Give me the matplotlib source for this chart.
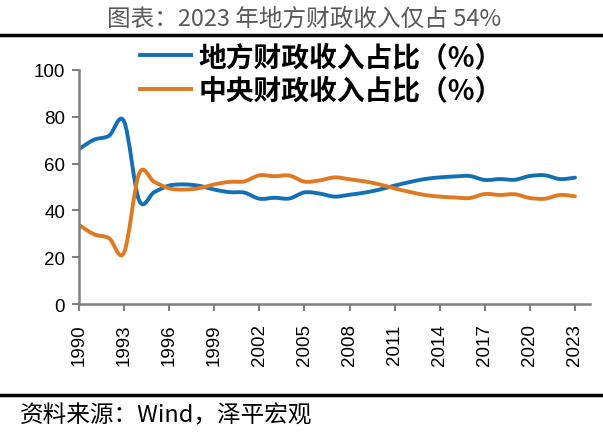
import matplotlib
matplotlib.use("Agg")
import matplotlib.pyplot as plt
from matplotlib.path import Path
from matplotlib.patches import PathPatch
from matplotlib.lines import Line2D
import numpy as np

plt.rcParams['font.family'] = ['Noto Sans CJK SC', 'DejaVu Sans']

years = list(range(1990, 2024))
# local share of fiscal revenue (%)
local_share = [66.2, 70.2, 71.9, 78.0, 44.3, 47.8, 50.6, 51.1, 50.5, 48.9,
               47.8, 47.6, 45.0, 45.4, 45.1, 47.7, 47.2, 45.9, 46.7, 47.6,
               48.9, 50.6, 52.1, 53.4, 54.1, 54.5, 54.7, 53.0, 53.4, 53.1,
               54.7, 55.0, 53.4, 54.0]
central_share = [round(100 - v, 1) for v in local_share]

series_names = ['地方财政收入占比（%）', '中央财政收入占比（%）']
colors = ['#1470B4', '#E07A22']
xticks = list(range(1990, 2024, 3))
yticks = [0, 20, 40, 60, 80, 100]


def smooth_path(x, y):
    # excel style smoothed line: cubic bezier through every point
    x = np.asarray(x, float)
    y = np.asarray(y, float)
    n = len(x)
    verts = [(x[0], y[0])]
    codes = [Path.MOVETO]
    for i in range(n - 1):
        i0 = max(i - 1, 0)
        i3 = min(i + 2, n - 1)
        c1 = (x[i] + (x[i + 1] - x[i0]) / 6, y[i] + (y[i + 1] - y[i0]) / 6)
        c2 = (x[i + 1] - (x[i3] - x[i]) / 6, y[i + 1] - (y[i3] - y[i]) / 6)
        verts += [c1, c2, (x[i + 1], y[i + 1])]
        codes += [Path.CURVE4] * 3
    return Path(verts, codes)


fig = plt.figure(figsize=(6.03, 4.35), dpi=100)
ax = fig.add_axes([79 / 603, 1 - 305 / 435, (590 - 79) / 603, (305 - 71) / 435])

handles = []
for vals, c, name in zip([local_share, central_share], colors, series_names):
    ax.add_patch(PathPatch(smooth_path(years, vals), fill=False, edgecolor=c,
                           lw=2.8, capstyle='round', joinstyle='round'))
    handles.append(Line2D([], [], color=c, lw=2.8))

ax.set_xlim(1990, 1990 + (590 - 79) / ((575 - 79) / 33))
ax.set_ylim(0, 100)
ax.set_xticks(xticks)
ax.set_xticklabels([str(t) for t in xticks], rotation=90,
                   family='Liberation Sans', fontsize=13.5)
ax.set_yticks(yticks)
ax.set_yticklabels([str(t) for t in yticks], family='Liberation Sans', fontsize=13.5)
ax.tick_params(axis='both', length=5, width=1.5, color='#808080', pad=5)
ax.tick_params(axis='x', pad=9)
for s in ['top', 'right']:
    ax.spines[s].set_visible(False)
for s in ['left', 'bottom']:
    ax.spines[s].set_color('#808080')
    ax.spines[s].set_linewidth(1.8)

fig.legend(handles, series_names, loc='upper left', bbox_to_anchor=(140 / 603, 1 - 44 / 435),
           frameon=False, prop={'family': ['Noto Sans CJK SC'], 'weight': 'bold', 'size': 20},
           handlelength=1.85, handletextpad=0.25, labelspacing=0.2, borderpad=0, borderaxespad=0)

fig.text(0.504, 1 - 19 / 435, '图表：2023 年地方财政收入仅占 54%', ha='center', va='center',
         fontsize=17, color='#595959')
fig.add_artist(Line2D([0, 1], [1 - 36 / 435] * 2, color='black', lw=2.5))
fig.add_artist(Line2D([0, 1], [1 - 396 / 435] * 2, color='black', lw=2.5))
fig.text(20 / 603, 1 - 416 / 435, '资料来源：Wind，泽平宏观', ha='left', va='center',
         fontsize=17, style='italic', color='black')

fig.savefig('out.png', dpi=100)
